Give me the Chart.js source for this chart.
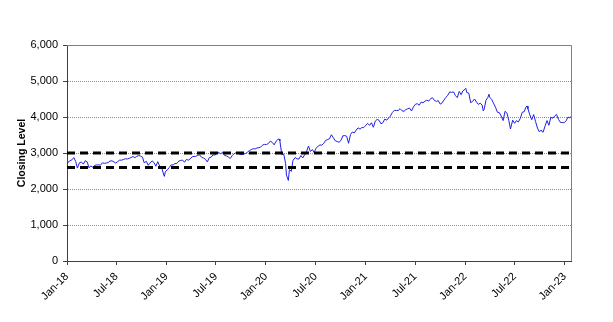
<!DOCTYPE html>
<html>
<head>
<meta charset="utf-8">
<title>Closing Level</title>
<script src="https://cdn.jsdelivr.net/npm/chart.js@4.4.1/dist/chart.umd.min.js"></script>
<style>
  html, body { margin: 0; padding: 0; background: #fff; }
  canvas { display: block; }
</style>
</head>
<body>
<canvas id="lineChart" width="613" height="322"></canvas>
<script>
// index closes (weekly, plus a few daily turning points)
var dates = [
  '2018-01-02','2018-01-05','2018-01-12','2018-01-19','2018-01-26','2018-02-02','2018-02-08','2018-02-16','2018-02-23',
  '2018-03-02','2018-03-09','2018-03-16','2018-03-23','2018-03-29','2018-04-06','2018-04-13','2018-04-20','2018-04-27',
  '2018-05-04','2018-05-11','2018-05-18','2018-05-25','2018-06-01','2018-06-08','2018-06-15','2018-06-22','2018-06-29',
  '2018-07-06','2018-07-13','2018-07-20','2018-07-27','2018-08-03','2018-08-10','2018-08-17','2018-08-24','2018-08-31',
  '2018-09-07','2018-09-14','2018-09-21','2018-09-28','2018-10-05','2018-10-11','2018-10-19','2018-10-26','2018-11-02',
  '2018-11-09','2018-11-16','2018-11-23','2018-11-30','2018-12-07','2018-12-14','2018-12-21','2018-12-24','2018-12-28',
  '2019-01-04','2019-01-11','2019-01-18','2019-01-25','2019-02-01','2019-02-08','2019-02-15','2019-02-22','2019-03-01',
  '2019-03-08','2019-03-15','2019-03-22','2019-03-29','2019-04-05','2019-04-12','2019-04-18','2019-04-26','2019-05-03',
  '2019-05-10','2019-05-17','2019-05-24','2019-05-31','2019-06-07','2019-06-14','2019-06-21','2019-06-28','2019-07-05',
  '2019-07-12','2019-07-19','2019-07-26','2019-08-02','2019-08-09','2019-08-16','2019-08-23','2019-08-30','2019-09-06',
  '2019-09-13','2019-09-20','2019-09-27','2019-10-04','2019-10-11','2019-10-18','2019-10-25','2019-11-01','2019-11-08',
  '2019-11-15','2019-11-22','2019-11-29','2019-12-06','2019-12-13','2019-12-20','2019-12-27',
  '2020-01-03','2020-01-10','2020-01-17','2020-01-24','2020-01-31','2020-02-07','2020-02-14','2020-02-19','2020-02-21',
  '2020-02-28','2020-03-06','2020-03-13','2020-03-16','2020-03-20','2020-03-23','2020-03-27','2020-04-03','2020-04-09',
  '2020-04-17','2020-04-24','2020-05-01','2020-05-08','2020-05-15','2020-05-22','2020-05-29','2020-06-05','2020-06-12',
  '2020-06-19','2020-06-26','2020-07-02','2020-07-10','2020-07-17','2020-07-24','2020-07-31','2020-08-07','2020-08-14',
  '2020-08-21','2020-08-28','2020-09-04','2020-09-11','2020-09-18','2020-09-25','2020-10-02','2020-10-09','2020-10-16',
  '2020-10-23','2020-10-30','2020-11-06','2020-11-13','2020-11-20','2020-11-27','2020-12-04','2020-12-11','2020-12-18',
  '2020-12-24','2020-12-31',
  '2021-01-08','2021-01-15','2021-01-22','2021-01-29','2021-02-05','2021-02-12','2021-02-19','2021-02-26','2021-03-05',
  '2021-03-12','2021-03-19','2021-03-26','2021-04-01','2021-04-09','2021-04-16','2021-04-23','2021-04-30','2021-05-07',
  '2021-05-14','2021-05-21','2021-05-28','2021-06-04','2021-06-11','2021-06-18','2021-06-25','2021-07-02','2021-07-09',
  '2021-07-16','2021-07-23','2021-07-30','2021-08-06','2021-08-13','2021-08-20','2021-08-27','2021-09-03','2021-09-10',
  '2021-09-17','2021-09-24','2021-10-01','2021-10-08','2021-10-15','2021-10-22','2021-10-29','2021-11-05','2021-11-12',
  '2021-11-19','2021-11-26','2021-12-03','2021-12-10','2021-12-17','2021-12-23','2021-12-31',
  '2022-01-03','2022-01-07','2022-01-14','2022-01-21','2022-01-28','2022-02-04','2022-02-11','2022-02-18','2022-02-25',
  '2022-03-04','2022-03-08','2022-03-11','2022-03-18','2022-03-25','2022-03-29','2022-04-01','2022-04-08','2022-04-14',
  '2022-04-22','2022-04-29','2022-05-06','2022-05-13','2022-05-20','2022-05-27','2022-06-03','2022-06-10','2022-06-16',
  '2022-06-24','2022-07-01','2022-07-08','2022-07-15','2022-07-22','2022-07-29','2022-08-05','2022-08-12','2022-08-16',
  '2022-08-19','2022-08-26','2022-09-02','2022-09-09','2022-09-16','2022-09-23','2022-09-30','2022-10-07','2022-10-12',
  '2022-10-14','2022-10-21','2022-10-28','2022-11-04','2022-11-11','2022-11-18','2022-11-25','2022-12-02','2022-12-09',
  '2022-12-16','2022-12-23','2022-12-30','2023-01-06','2023-01-13','2023-01-20','2023-01-24'
];
var closes = [
  2695,2743,2786,2810,2873,2762,2581,2732,2747,
  2691,2786,2752,2588,2641,2604,2656,2670,2670,
  2663,2728,2713,2721,2735,2779,2780,2755,2718,
  2760,2801,2802,2819,2840,2833,2850,2875,2902,
  2872,2905,2930,2914,2885,2729,2768,2659,2723,
  2781,2736,2633,2760,2633,2600,2417,2351,2486,
  2532,2596,2671,2665,2707,2708,2776,2793,2804,
  2743,2822,2801,2834,2893,2907,2905,2940,2946,
  2881,2860,2826,2752,2873,2887,2950,2942,2990,
  3014,2977,3026,2932,2919,2889,2847,2926,2979,
  3007,2992,2962,2952,2970,2986,3023,3067,3093,
  3120,3110,3141,3146,3169,3221,3240,
  3235,3265,3330,3295,3226,3328,3380,3386,3338,
  2954,2972,2711,2386,2305,2237,2541,2489,2790,
  2875,2837,2831,2930,2864,2955,3044,3194,3041,
  3098,3009,3130,3185,3225,3216,3271,3351,3373,
  3397,3508,3427,3341,3319,3298,3348,3477,3484,
  3465,3270,3510,3585,3558,3638,3699,3663,3709,
  3703,3756,
  3825,3768,3841,3714,3887,3934,3907,3811,3842,
  3943,3913,3975,4020,4129,4185,4180,4181,4233,
  4174,4156,4204,4230,4247,4166,4281,4352,4370,
  4327,4412,4395,4437,4468,4442,4509,4535,4459,
  4433,4455,4357,4391,4471,4545,4605,4697,4683,
  4698,4595,4538,4712,4620,4725,4766,
  4797,4677,4663,4398,4432,4501,4419,4349,4385,
  4329,4170,4204,4463,4543,4632,4546,4488,4393,
  4272,4132,4123,4024,3901,4158,4109,3901,3667,
  3912,3825,3899,3863,3962,4130,4145,4280,4305,
  4228,4058,3924,4067,3873,3693,3586,3640,3577,
  3583,3753,3901,3771,3993,3965,4026,4072,3934,
  3852,3845,3840,3895,3999,3972,4017
];

// horizontal reference levels (dashed)
var levels = [3000, 2600];

// x axis ticks
var xTickDates = ['2018-01-01','2018-07-01','2019-01-01','2019-07-01','2020-01-01','2020-07-01',
                  '2021-01-01','2021-07-01','2022-01-01','2022-07-01','2023-01-01'];
var xTickLabels = ['Jan-18','Jul-18','Jan-19','Jul-19','Jan-20','Jul-20','Jan-21','Jul-21','Jan-22','Jul-22','Jan-23'];

// y axis
var yMin = 0, yMax = 6000, yStep = 1000;

function toTime(s) { return new Date(s + 'T00:00:00Z').getTime(); }

var xMin = toTime(xTickDates[0]);
var xMax = toTime(dates[dates.length - 1]);

var series = [];
for (var i in dates) {
  series.push({ x: toTime(dates[i]), y: closes[i] });
}

var datasets = [];
for (var j in levels) {
  datasets.push({
    label: 'Level ' + levels[j],
    data: [{ x: xMin, y: levels[j] }, { x: xMax, y: levels[j] }],
    borderColor: '#000000',
    borderWidth: 3,
    borderDash: [8, 5],
    pointRadius: 0,
    fill: false
  });
}
datasets.push({
  label: 'Closing Level',
  data: series,
  borderColor: '#1f1fe6',
  borderWidth: 1,
  pointRadius: 0,
  tension: 0,
  fill: false
});

// top and right edge of the plot area
var frame = {
  id: 'frame',
  afterDraw: function(chart) {
    var a = chart.chartArea, c = chart.ctx;
    c.save();
    c.strokeStyle = '#7f7f7f';
    c.lineWidth = 1;
    c.beginPath();
    c.moveTo(a.left, a.top + 0.5);
    c.lineTo(a.right + 0.5, a.top + 0.5);
    c.lineTo(a.right + 0.5, a.bottom);
    c.stroke();
    c.restore();
  }
};

var ctx = document.getElementById('lineChart');

var lineGraph = new Chart(ctx, {
  type: 'line',
  data: { datasets: datasets },
  plugins: [frame],
  options: {
    responsive: false,
    animation: false,
    devicePixelRatio: 1,
    layout: { padding: { top: 45, right: 42, left: 0, bottom: 0 } },
    plugins: {
      legend: { display: false },
      tooltip: { enabled: false }
    },
    scales: {
      x: {
        type: 'linear',
        min: xMin,
        max: xMax,
        afterBuildTicks: function(scale) {
          scale.ticks = xTickDates.map(function(d) { return { value: toTime(d) }; });
        },
        afterFit: function(scale) { scale.height = 61; },
        grid: {
          drawOnChartArea: false,
          drawTicks: true,
          tickLength: 4,
          tickColor: '#404040'
        },
        border: { display: true, color: '#404040', width: 1 },
        ticks: {
          autoSkip: false,
          minRotation: 45,
          maxRotation: 45,
          padding: 5,
          color: '#000',
          font: { family: 'Liberation Sans, Arial, sans-serif', size: 11 },
          callback: function(value, index) { return xTickLabels[index]; }
        }
      },
      y: {
        min: yMin,
        max: yMax,
        afterFit: function(scale) { scale.width = 67; },
        grid: {
          color: function(c) {
            return (c.tick && (c.tick.value === yMin || c.tick.value === yMax)) ? 'rgba(0,0,0,0)' : '#8c8c8c';
          },
          lineWidth: 1,
          tickLength: 4,
          tickColor: '#404040',
          tickBorderDash: []
        },
        border: { display: true, color: '#404040', width: 1, dash: [1, 1] },
        ticks: {
          stepSize: yStep,
          padding: 5,
          color: '#000',
          font: { family: 'Liberation Sans, Arial, sans-serif', size: 11 },
          callback: function(v) { return v.toLocaleString('en-US'); }
        },
        title: {
          display: true,
          text: 'Closing Level',
          color: '#000',
          padding: { top: 16, bottom: 0 },
          font: { family: 'Liberation Sans, Arial, sans-serif', size: 10.5, weight: 'bold' }
        }
      }
    }
  }
});
</script>
</body>
</html>
